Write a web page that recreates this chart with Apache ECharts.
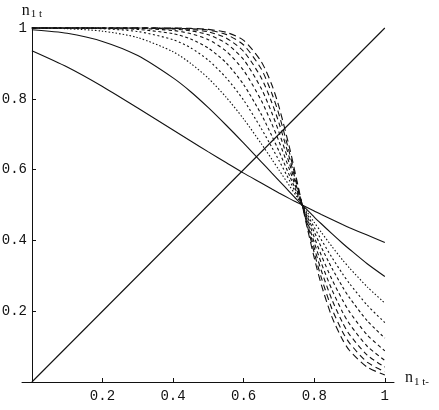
<!DOCTYPE html>
<html>
<head>
<meta charset="utf-8">
<script src="https://cdn.jsdelivr.net/npm/echarts@6/dist/echarts.min.js"></script>
<style>
  html, body { margin: 0; padding: 0; background: #fff; }
  #MainChart { width: 439px; height: 410px; }
</style>
</head>
<body>
<div id="MainChart"></div>
<script>
  // x 方向采样点
  var xValues = [0, 0.1, 0.2, 0.3, 0.4, 0.45, 0.5, 0.55, 0.6, 0.65, 0.68, 0.7, 0.73, 0.75, 0.766, 0.78, 0.8, 0.82, 0.85, 0.88, 0.9, 0.95, 1];

  // 实线
  var curveA = [0.936, 0.890, 0.835, 0.774, 0.712, 0.681, 0.650, 0.620, 0.590, 0.562, 0.545, 0.534, 0.518, 0.508, 0.5, 0.493, 0.483, 0.473, 0.459, 0.445, 0.436, 0.415, 0.394];
  var curveB = [0.995, 0.985, 0.962, 0.922, 0.859, 0.820, 0.775, 0.726, 0.675, 0.622, 0.590, 0.569, 0.537, 0.516, 0.5, 0.486, 0.466, 0.447, 0.419, 0.392, 0.375, 0.334, 0.298];
  // 虚线 (越来越陡)
  var curveC = [1, 0.998, 0.991, 0.973, 0.933, 0.900, 0.858, 0.805, 0.743, 0.673, 0.629, 0.599, 0.554, 0.524, 0.5, 0.480, 0.451, 0.423, 0.383, 0.345, 0.322, 0.269, 0.223];
  var curveD = [1, 1, 0.998, 0.990, 0.967, 0.944, 0.909, 0.860, 0.796, 0.716, 0.663, 0.626, 0.569, 0.530, 0.5, 0.474, 0.437, 0.402, 0.352, 0.306, 0.278, 0.217, 0.168];
  var curveE = [1, 1, 0.999, 0.996, 0.984, 0.969, 0.943, 0.902, 0.840, 0.756, 0.695, 0.652, 0.583, 0.537, 0.5, 0.468, 0.424, 0.381, 0.322, 0.269, 0.238, 0.173, 0.124];
  var curveF = [1, 1, 1, 0.999, 0.993, 0.984, 0.967, 0.935, 0.880, 0.795, 0.729, 0.680, 0.600, 0.544, 0.5, 0.462, 0.409, 0.358, 0.290, 0.232, 0.198, 0.133, 0.088];
  var curveG = [1, 1, 1, 1, 0.997, 0.992, 0.981, 0.957, 0.911, 0.829, 0.760, 0.706, 0.616, 0.552, 0.5, 0.455, 0.394, 0.336, 0.261, 0.198, 0.164, 0.101, 0.061];
  var curveH = [1, 1, 1, 1, 0.999, 0.996, 0.989, 0.972, 0.934, 0.859, 0.789, 0.732, 0.632, 0.559, 0.5, 0.449, 0.379, 0.315, 0.233, 0.168, 0.134, 0.076, 0.042];
  var curveI = [1, 1, 1, 1, 0.999, 0.998, 0.994, 0.982, 0.952, 0.884, 0.815, 0.756, 0.647, 0.566, 0.5, 0.443, 0.365, 0.295, 0.207, 0.142, 0.110, 0.056, 0.029];
  var curveJ = [1, 1, 1, 1, 1, 0.999, 0.996, 0.988, 0.965, 0.905, 0.839, 0.778, 0.662, 0.573, 0.5, 0.436, 0.351, 0.275, 0.184, 0.120, 0.089, 0.042, 0.020];

  // 对角线 y = x
  var diagonal = [[0, 0], [1, 1]];

  var xTicks = [0.2, 0.4, 0.6, 0.8, 1];

  var curves = [curveA, curveB, curveC, curveD, curveE, curveF, curveG, curveH, curveI, curveJ];
  var dashes = ['solid', 'solid', [1.5, 2], [2, 2.5], [3, 2.5], [3.5, 3], [4, 3], [5, 3.5], [6, 4], [7, 4]];

  var toPoints = function (ys) {
    var res = [];
    for (var i = 0; i < xValues.length; i++) {
      res.push([xValues[i], ys[i]]);
    }
    return res;
  };

  var series = [{
    type: 'line',
    data: diagonal,
    symbol: 'none',
    clip: false,
    lineStyle: { color: '#111', width: 1.1 }
  }];
  curves.forEach(function (ys, i) {
    series.push({
      type: 'line',
      data: toPoints(ys),
      symbol: 'none',
      smooth: 0.25,
      clip: false,
      lineStyle: { color: '#111', width: 1.1, type: dashes[i] }
    });
  });

  var nameRich = {
    n: { fontFamily: 'Liberation Serif', fontSize: 16, color: '#111' },
    s: { fontFamily: 'Liberation Serif', fontSize: 11, color: '#111', padding: [8, 0, 0, 1] }
  };

  var MainChart = echarts.init(document.getElementById('MainChart'));
  var option = {
    animation: false,
    grid: { left: 22, right: 45, top: 28, bottom: 28, containLabel: false, outerBoundsMode: 'none' },
    xAxis: {
      type: 'value',
      min: -0.028,
      max: 1.026,
      splitLine: { show: false },
      axisLine: { lineStyle: { color: '#111', width: 1 } },
      axisTick: { show: true, inside: true, length: 4, customValues: xTicks, lineStyle: { color: '#111' } },
      axisLabel: {
        customValues: xTicks,
        margin: 7,
        color: '#111',
        fontFamily: 'Liberation Mono',
        fontSize: 14,
        formatter: function (v) { return v === 1 ? '1' : v.toFixed(1); }
      },
      name: '{n|n}{s|1 t-}',
      nameLocation: 'end',
      nameGap: 11,
      nameTextStyle: { rich: nameRich, padding: [0, 0, 8, 0] }
    },
    yAxis: {
      type: 'value',
      min: 0,
      max: 1,
      interval: 0.2,
      offset: -10,
      splitLine: { show: false },
      axisLine: { onZero: false, lineStyle: { color: '#111', width: 1 } },
      axisTick: { show: true, inside: true, length: 4, lineStyle: { color: '#111' } },
      axisLabel: {
        margin: 5,
        color: '#111',
        fontFamily: 'Liberation Mono',
        fontSize: 14,
        formatter: function (v) {
          if (v === 0) return '';
          return v === 1 ? '1' : v.toFixed(1);
        }
      },
      name: '{n|n}{s|1 t}',
      nameLocation: 'end',
      nameGap: 8,
      nameTextStyle: { rich: nameRich }
    },
    series: series
  };
  MainChart.setOption(option);
</script>
</body>
</html>
